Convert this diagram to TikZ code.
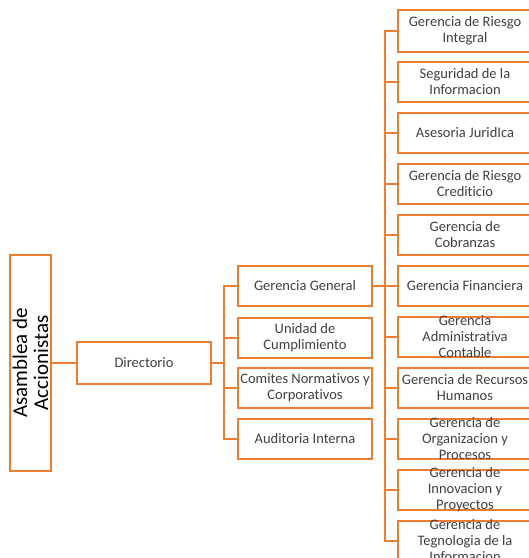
\documentclass[tikz,border=0pt]{standalone}
\usepackage{fontspec}
\setmainfont[Ligatures=NoCommon]{Carlito}
\definecolor{naranja}{RGB}{237,125,49}
\definecolor{gristxt}{RGB}{64,64,64}
\tikzset{every picture/.style={line width=2pt}}
\tikzset{
	caja/.style={draw=naranja, fill=white, minimum width=134pt, minimum height=40pt, inner sep=0pt},
	rotulo/.style={text=gristxt, align=center, inner sep=0pt, font=\fontsize{14.5}{16}\selectfont},
	enlace/.style={draw=naranja, line width=2pt}}

\begin{document}
\begin{tikzpicture}[x=1pt,y=1pt,yscale=-1,xscale=1]
	\useasboundingbox (0,0) rectangle (529,558);
	\clip (0,0) rectangle (529,558);

	%Shape: Asamblea
	\node[caja, minimum width=41pt, minimum height=216pt] (asam) at (30.5,363) {};
	\node[rotate=90, align=center, inner sep=0pt, font=\fontsize{21}{21}\selectfont] (asamt) at (asam) {Asamblea de\\Accionistas};
	%Shape: Directorio
	\node[caja, minimum height=42pt] (dir) at (144,363) {};
	\node[rotulo] (dirt) at (dir) {Directorio};

	%Shapes: second column
	\node[caja] (gg) at (305,286) {};
	\node[caja] (uc) at (305,337.5) {};
	\node[caja] (cn) at (305,388) {};
	\node[caja] (ai) at (305,439) {};
	\node[rotulo] (ggt) at (gg) {Gerencia General};
	\node[rotulo] (uct) at (uc) {Unidad de\\Cumplimiento};
	\node[rotulo] (cnt) at (cn) {Comites Normativos y\\Corporativos};
	\node[rotulo] (ait) at (ai) {Auditoria Interna};

	%Shapes: third column
	\node[caja, minimum height=42pt] (ri) at (465,31) {};
	\node[caja] (si) at (465,82) {};
	\node[caja] (aj) at (465,133) {};
	\node[caja] (rc) at (465,184) {};
	\node[caja] (co) at (465,235) {};
	\node[caja] (gf) at (465,286) {};
	\node[caja] (ac) at (465,337) {};
	\node[caja] (rh) at (465,388) {};
	\node[caja] (op) at (465,439) {};
	\node[caja] (ip) at (465,490) {};
	\node[caja] (ti) at (465,541) {};
	\node[rotulo] (rit) at (ri) {Gerencia de Riesgo\\Integral};
	\node[rotulo] (sit) at (si) {Seguridad de la\\Informacion};
	\node[rotulo] (ajt) at (aj) {Asesoria JuridIca};
	\node[rotulo] (rct) at (rc) {Gerencia de Riesgo\\Crediticio};
	\node[rotulo] (cot) at (co) {Gerencia de\\Cobranzas};
	\node[rotulo] (gft) at (gf) {Gerencia Financiera};
	\node[rotulo] (act) at (ac) {Gerencia\\Administrativa\\Contable};
	\node[rotulo] (rht) at (rh) {Gerencia de Recursos\\Humanos};
	\node[rotulo] (opt) at (op) {Gerencia de\\Organizacion y\\Procesos};
	\node[rotulo] (ipt) at (ip) {Gerencia de\\Innovacion y\\Proyectos};
	\node[rotulo] (tit) at (ti) {Gerencia de\\Tegnologia de la\\Informacion};

	%Connectors
	\coordinate (busA) at (224,363);
	\coordinate (busB) at (385,286);
	\draw[enlace] (asam.east) -- (dir.west);
	\draw[enlace] (dir.east) -- (busA);
	\draw[enlace] (gg.west) -| (busA);
	\draw[enlace] (uc.west) -| (busA);
	\draw[enlace] (cn.west) -| (busA);
	\draw[enlace] (ai.west) -| (busA);
	\draw[enlace] (gg.east) -- (busB);
	\draw[enlace] (ri.west) -| (busB);
	\draw[enlace] (si.west) -| (busB);
	\draw[enlace] (aj.west) -| (busB);
	\draw[enlace] (rc.west) -| (busB);
	\draw[enlace] (co.west) -| (busB);
	\draw[enlace] (gf.west) -| (busB);
	\draw[enlace] (ac.west) -| (busB);
	\draw[enlace] (rh.west) -| (busB);
	\draw[enlace] (op.west) -| (busB);
	\draw[enlace] (ip.west) -| (busB);
	\draw[enlace] (ti.west) -| (busB);

\end{tikzpicture}
\end{document}
